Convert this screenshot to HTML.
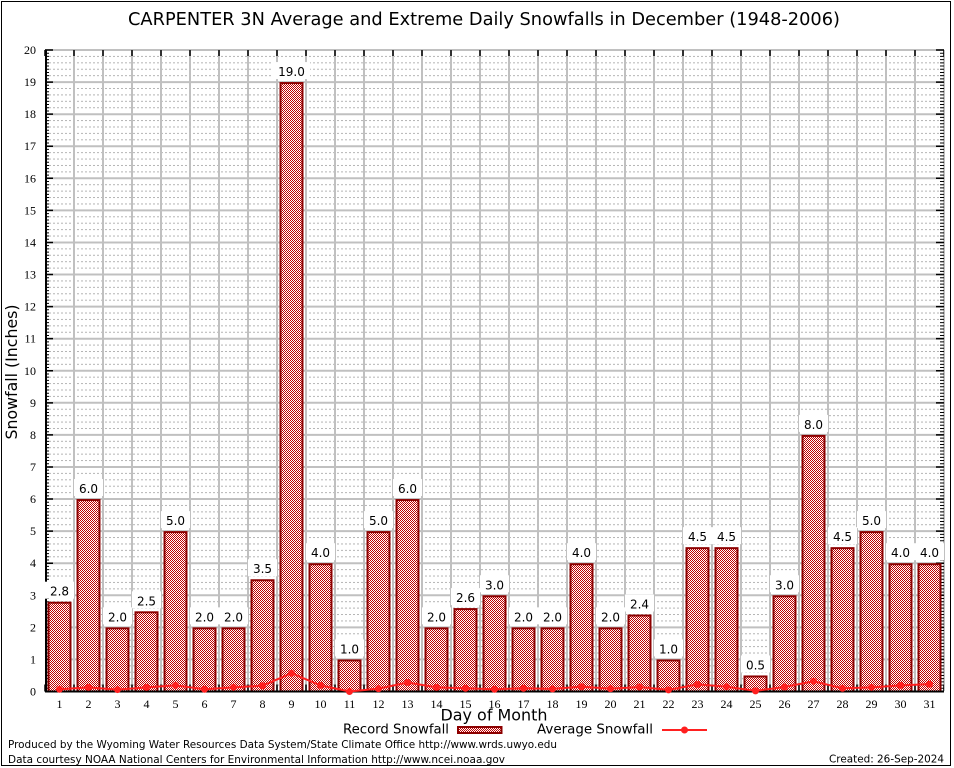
<!DOCTYPE html>
<html><head><meta charset="utf-8"><style>
html,body{margin:0;padding:0;background:#fff;}
svg{display:block;}
.s{font-family:"DejaVu Sans","Liberation Sans",sans-serif;}
.t{font-family:"Liberation Serif","DejaVu Serif",serif;font-size:12px;fill:#000;}
.v{font-family:"DejaVu Sans","Liberation Sans",sans-serif;font-size:12px;text-anchor:middle;fill:#000;}
</style></head><body>
<svg width="954" height="768" viewBox="0 0 954 768" xmlns="http://www.w3.org/2000/svg">
<defs>
<pattern id="ck" width="2" height="2" patternUnits="userSpaceOnUse">
<rect width="2" height="2" fill="#fff"/><rect width="1" height="1" fill="#c00000"/><rect x="1" y="1" width="1" height="1" fill="#c00000"/>
</pattern>
<pattern id="mg" x="45" y="691" width="4" height="6.415" patternUnits="userSpaceOnUse">
<rect x="0" y="0" width="2" height="1" fill="#b4b4b4"/>
</pattern>
</defs>
<rect x="0" y="0" width="954" height="768" fill="#fff"/>
<rect x="1.5" y="1.5" width="949" height="764" fill="none" stroke="#000" stroke-width="1"/>

<text class="s" x="484" y="25" font-size="18" text-anchor="middle" textLength="712" lengthAdjust="spacingAndGlyphs">CARPENTER 3N Average and Extreme Daily Snowfalls in December (1948-2006)</text>

<!-- minor grid -->
<rect x="46" y="50" width="898" height="641" fill="url(#mg)"/>
<!-- major grid -->
<path fill="none" stroke="#c0c0c0" stroke-width="2" d="M74 50V691M103 50V691M132 50V691M161 50V691M190 50V691M219 50V691M248 50V691M277 50V691M306 50V691M335 50V691M364 50V691M393 50V691M422 50V691M451 50V691M480 50V691M509 50V691M538 50V691M567 50V691M596 50V691M625 50V691M654 50V691M683 50V691M712 50V691M741 50V691M770 50V691M799 50V691M828 50V691M857 50V691M886 50V691M915 50V691M944 50V691
M45 659.4H944M45 627.4H944M45 595.3H944M45 563.2H944M45 531.1H944M45 499H944M45 467H944M45 434.9H944M45 402.8H944M45 370.8H944M45 338.7H944M45 306.6H944M45 274.5H944M45 242.5H944M45 210.4H944M45 178.3H944M45 146.2H944M45 114.2H944M45 82.1H944M45 50H944"/>

<!-- ticks -->
<line x1="47" y1="692" x2="47" y2="50" stroke="#000" stroke-width="4" stroke-dasharray="1 2.2075"/>
<line x1="49" y1="692.25" x2="49" y2="49" stroke="#000" stroke-width="8" stroke-dasharray="1.5 30.575"/>
<line x1="942" y1="692" x2="942" y2="50" stroke="#000" stroke-width="4" stroke-dasharray="1 2.2075"/>
<line x1="940" y1="692.25" x2="940" y2="49" stroke="#000" stroke-width="8" stroke-dasharray="1.5 30.575"/>
<line x1="44.25" y1="53" x2="944" y2="53" stroke="#000" stroke-width="6" stroke-dasharray="1.5 27.5"/>
<line x1="44.25" y1="688" x2="944" y2="688" stroke="#000" stroke-width="7" stroke-dasharray="1.5 27.5"/>

<!-- bars -->
<g fill="url(#ck)" stroke="#8c0000" stroke-width="2">
<rect x="48.5" y="602.7" width="22" height="88.8"/>
<rect x="77.5" y="500.05" width="22" height="191.45"/>
<rect x="106.5" y="628.35" width="22" height="63.15"/>
<rect x="135.5" y="612.31" width="22" height="79.19"/>
<rect x="164.5" y="532.12" width="22" height="159.38"/>
<rect x="193.5" y="628.35" width="22" height="63.15"/>
<rect x="222.5" y="628.35" width="22" height="63.15"/>
<rect x="251.5" y="580.24" width="22" height="111.26"/>
<rect x="280.5" y="83.07" width="22" height="608.43"/>
<rect x="309.5" y="564.2" width="22" height="127.3"/>
<rect x="338.5" y="660.42" width="22" height="31.08"/>
<rect x="367.5" y="532.12" width="22" height="159.38"/>
<rect x="396.5" y="500.05" width="22" height="191.45"/>
<rect x="425.5" y="628.35" width="22" height="63.15"/>
<rect x="454.5" y="609.1" width="22" height="82.4"/>
<rect x="483.5" y="596.27" width="22" height="95.23"/>
<rect x="512.5" y="628.35" width="22" height="63.15"/>
<rect x="541.5" y="628.35" width="22" height="63.15"/>
<rect x="570.5" y="564.2" width="22" height="127.3"/>
<rect x="599.5" y="628.35" width="22" height="63.15"/>
<rect x="628.5" y="615.52" width="22" height="75.98"/>
<rect x="657.5" y="660.42" width="22" height="31.08"/>
<rect x="686.5" y="548.16" width="22" height="143.34"/>
<rect x="715.5" y="548.16" width="22" height="143.34"/>
<rect x="744.5" y="676.46" width="22" height="15.04"/>
<rect x="773.5" y="596.27" width="22" height="95.23"/>
<rect x="802.5" y="435.9" width="22" height="255.6"/>
<rect x="831.5" y="548.16" width="22" height="143.34"/>
<rect x="860.5" y="532.12" width="22" height="159.38"/>
<rect x="889.5" y="564.2" width="22" height="127.3"/>
<rect x="918.5" y="564.2" width="22" height="127.3"/>
</g>

<!-- axes -->
<line x1="46" y1="50" x2="46" y2="692.5" stroke="#000" stroke-width="2"/>
<line x1="45" y1="691.5" x2="944" y2="691.5" stroke="#000" stroke-width="2"/>

<!-- average line -->
<polyline fill="none" stroke="#ff2020" stroke-width="2" points="59.5,689.25 88.5,687.33 117.5,689.58 146.5,687.33 175.5,685.41 204.5,689.25 233.5,687.33 262.5,685.73 291.5,673.22 320.5,685.41 349.5,691.5 378.5,688.61 407.5,682.52 436.5,687.33 465.5,688.29 494.5,689.25 523.5,688.29 552.5,688.93 581.5,686.69 610.5,688.61 639.5,687.01 668.5,689.9 697.5,684.44 726.5,686.69 755.5,690.86 784.5,687.01 813.5,681.24 842.5,688.29 871.5,687.33 900.5,685.41 929.5,684.12"/>
<g fill="#ff2020">
<circle cx="59.5" cy="689.25" r="3.5"/><circle cx="88.5" cy="687.33" r="3.5"/><circle cx="117.5" cy="689.58" r="3.5"/><circle cx="146.5" cy="687.33" r="3.5"/><circle cx="175.5" cy="685.41" r="3.5"/><circle cx="204.5" cy="689.25" r="3.5"/><circle cx="233.5" cy="687.33" r="3.5"/><circle cx="262.5" cy="685.73" r="3.5"/><circle cx="291.5" cy="673.22" r="3.5"/><circle cx="320.5" cy="685.41" r="3.5"/><circle cx="349.5" cy="691.5" r="3.5"/><circle cx="378.5" cy="688.61" r="3.5"/><circle cx="407.5" cy="682.52" r="3.5"/><circle cx="436.5" cy="687.33" r="3.5"/><circle cx="465.5" cy="688.29" r="3.5"/><circle cx="494.5" cy="689.25" r="3.5"/><circle cx="523.5" cy="688.29" r="3.5"/><circle cx="552.5" cy="688.93" r="3.5"/><circle cx="581.5" cy="686.69" r="3.5"/><circle cx="610.5" cy="688.61" r="3.5"/><circle cx="639.5" cy="687.01" r="3.5"/><circle cx="668.5" cy="689.9" r="3.5"/><circle cx="697.5" cy="684.44" r="3.5"/><circle cx="726.5" cy="686.69" r="3.5"/><circle cx="755.5" cy="690.86" r="3.5"/><circle cx="784.5" cy="687.01" r="3.5"/><circle cx="813.5" cy="681.24" r="3.5"/><circle cx="842.5" cy="688.29" r="3.5"/><circle cx="871.5" cy="687.33" r="3.5"/><circle cx="900.5" cy="685.41" r="3.5"/><circle cx="929.5" cy="684.12" r="3.5"/>
</g>

<!-- value labels -->
<g fill="#fff">
<rect x="45" y="581.7" width="29" height="17"/>
<rect x="74" y="479.05" width="29" height="17"/>
<rect x="103" y="607.35" width="29" height="17"/>
<rect x="132" y="591.31" width="29" height="17"/>
<rect x="161" y="511.12" width="29" height="17"/>
<rect x="190" y="607.35" width="29" height="17"/>
<rect x="219" y="607.35" width="29" height="17"/>
<rect x="248" y="559.24" width="29" height="17"/>
<rect x="273" y="62.07" width="37" height="17"/>
<rect x="306" y="543.2" width="29" height="17"/>
<rect x="335" y="639.42" width="29" height="17"/>
<rect x="364" y="511.12" width="29" height="17"/>
<rect x="393" y="479.05" width="29" height="17"/>
<rect x="422" y="607.35" width="29" height="17"/>
<rect x="451" y="588.1" width="29" height="17"/>
<rect x="480" y="575.27" width="29" height="17"/>
<rect x="509" y="607.35" width="29" height="17"/>
<rect x="538" y="607.35" width="29" height="17"/>
<rect x="567" y="543.2" width="29" height="17"/>
<rect x="596" y="607.35" width="29" height="17"/>
<rect x="625" y="594.52" width="29" height="17"/>
<rect x="654" y="639.42" width="29" height="17"/>
<rect x="683" y="527.16" width="29" height="17"/>
<rect x="712" y="527.16" width="29" height="17"/>
<rect x="741" y="655.46" width="29" height="17"/>
<rect x="770" y="575.27" width="29" height="17"/>
<rect x="799" y="414.9" width="29" height="17"/>
<rect x="828" y="527.16" width="29" height="17"/>
<rect x="857" y="511.12" width="29" height="17"/>
<rect x="886" y="543.2" width="29" height="17"/>
<rect x="915" y="543.2" width="29" height="17"/>
</g>
<g class="v">
<text x="59.5" y="595.7">2.8</text>
<text x="88.5" y="493.05">6.0</text>
<text x="117.5" y="621.35">2.0</text>
<text x="146.5" y="605.31">2.5</text>
<text x="175.5" y="525.12">5.0</text>
<text x="204.5" y="621.35">2.0</text>
<text x="233.5" y="621.35">2.0</text>
<text x="262.5" y="573.24">3.5</text>
<text x="291.5" y="76.07">19.0</text>
<text x="320.5" y="557.2">4.0</text>
<text x="349.5" y="653.42">1.0</text>
<text x="378.5" y="525.12">5.0</text>
<text x="407.5" y="493.05">6.0</text>
<text x="436.5" y="621.35">2.0</text>
<text x="465.5" y="602.1">2.6</text>
<text x="494.5" y="589.27">3.0</text>
<text x="523.5" y="621.35">2.0</text>
<text x="552.5" y="621.35">2.0</text>
<text x="581.5" y="557.2">4.0</text>
<text x="610.5" y="621.35">2.0</text>
<text x="639.5" y="608.52">2.4</text>
<text x="668.5" y="653.42">1.0</text>
<text x="697.5" y="541.16">4.5</text>
<text x="726.5" y="541.16">4.5</text>
<text x="755.5" y="669.46">0.5</text>
<text x="784.5" y="589.27">3.0</text>
<text x="813.5" y="428.9">8.0</text>
<text x="842.5" y="541.16">4.5</text>
<text x="871.5" y="525.12">5.0</text>
<text x="900.5" y="557.2">4.0</text>
<text x="929.5" y="557.2">4.0</text>
</g>

<!-- y tick labels -->
<g class="t" text-anchor="end">
<text x="36" y="695.5">0</text>
<text x="36" y="663.4">1</text>
<text x="36" y="631.4">2</text>
<text x="36" y="599.3">3</text>
<text x="36" y="567.2">4</text>
<text x="36" y="535.1">5</text>
<text x="36" y="503">6</text>
<text x="36" y="471">7</text>
<text x="36" y="438.9">8</text>
<text x="36" y="406.8">9</text>
<text x="36" y="374.8">10</text>
<text x="36" y="342.7">11</text>
<text x="36" y="310.6">12</text>
<text x="36" y="278.5">13</text>
<text x="36" y="246.5">14</text>
<text x="36" y="214.4">15</text>
<text x="36" y="182.3">16</text>
<text x="36" y="150.2">17</text>
<text x="36" y="118.2">18</text>
<text x="36" y="86.1">19</text>
<text x="36" y="54">20</text>
</g>
<!-- x tick labels -->
<g class="t" text-anchor="middle">
<text x="59.5" y="708">1</text><text x="88.5" y="708">2</text><text x="117.5" y="708">3</text><text x="146.5" y="708">4</text><text x="175.5" y="708">5</text><text x="204.5" y="708">6</text><text x="233.5" y="708">7</text><text x="262.5" y="708">8</text><text x="291.5" y="708">9</text><text x="320.5" y="708">10</text><text x="349.5" y="708">11</text><text x="378.5" y="708">12</text><text x="407.5" y="708">13</text><text x="436.5" y="708">14</text><text x="465.5" y="708">15</text><text x="494.5" y="708">16</text><text x="523.5" y="708">17</text><text x="552.5" y="708">18</text><text x="581.5" y="708">19</text><text x="610.5" y="708">20</text><text x="639.5" y="708">21</text><text x="668.5" y="708">22</text><text x="697.5" y="708">23</text><text x="726.5" y="708">24</text><text x="755.5" y="708">25</text><text x="784.5" y="708">26</text><text x="813.5" y="708">27</text><text x="842.5" y="708">28</text><text x="871.5" y="708">29</text><text x="900.5" y="708">30</text><text x="929.5" y="708">31</text>
</g>

<!-- axis titles -->
<text class="s" transform="translate(17,372) rotate(-90)" font-size="16" text-anchor="middle" textLength="135" lengthAdjust="spacingAndGlyphs">Snowfall (Inches)</text>
<text class="s" x="494" y="720.5" font-size="16" text-anchor="middle" textLength="107" lengthAdjust="spacingAndGlyphs">Day of Month</text>

<!-- legend -->
<text class="s" x="343" y="733.3" font-size="13" textLength="106" lengthAdjust="spacingAndGlyphs">Record Snowfall</text>
<rect x="458" y="727" width="43.5" height="6" fill="url(#ck)" stroke="#8c0000" stroke-width="2"/>
<text class="s" x="537" y="733.3" font-size="13" textLength="116" lengthAdjust="spacingAndGlyphs">Average Snowfall</text>
<line x1="662" y1="730" x2="707" y2="730" stroke="#ff2020" stroke-width="2"/>
<circle cx="684.5" cy="730" r="3.5" fill="#ff2020"/>

<!-- footer -->
<text class="s" x="8" y="748" font-size="11" textLength="549" lengthAdjust="spacingAndGlyphs">Produced by the Wyoming Water Resources Data System/State Climate Office http://www.wrds.uwyo.edu</text>
<text class="s" x="8" y="763" font-size="11" textLength="497" lengthAdjust="spacingAndGlyphs">Data courtesy NOAA National Centers for Environmental Information http://www.ncei.noaa.gov</text>
<text class="s" x="829" y="762.5" font-size="11" textLength="115" lengthAdjust="spacingAndGlyphs">Created: 26-Sep-2024</text>
</svg>
</body></html>
